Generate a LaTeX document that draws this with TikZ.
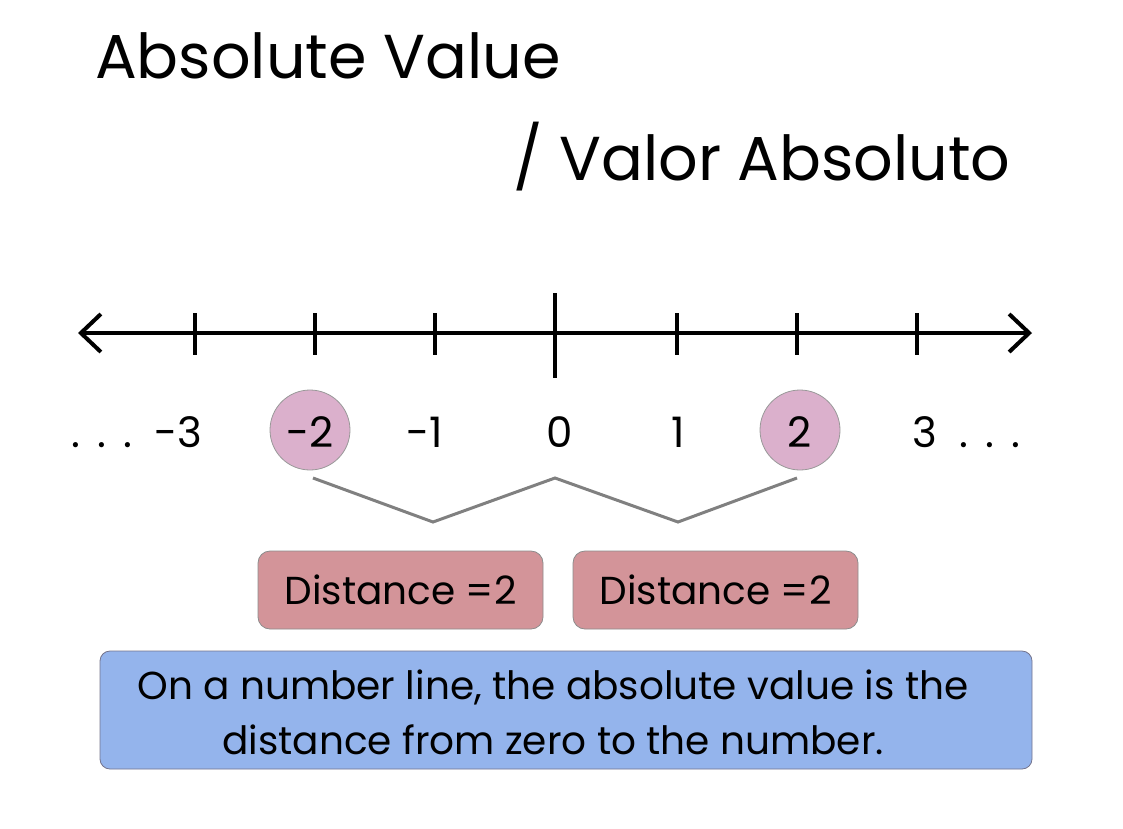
\documentclass[tikz,border=0pt]{standalone}
\usepackage{fontspec}
\setmainfont{Poppins}
\usetikzlibrary{arrows.meta}

\definecolor{markpink}{HTML}{DBB0CC}
\definecolor{distrose}{HTML}{D39499}
\definecolor{notebl}{HTML}{94B4EC}

\tikzset{
  numlbl/.style={anchor=base, font=\fontsize{42}{44}\selectfont, inner sep=0pt},
  markc/.style={circle, draw=gray!80, fill=markpink, line width=0.8pt, minimum size=80pt},
  distbox/.style={draw=gray!90, fill=distrose, rounded corners=12pt, line width=0.8pt,
    minimum width=285pt, minimum height=78pt, font=\fontsize{39}{40}\selectfont},
  notebox/.style={draw=gray!90!blue, fill=notebl, rounded corners=10pt, line width=0.8pt,
    minimum width=932pt, minimum height=118pt},
  notetxt/.style={align=center, inner sep=0pt, font=\fontsize{39}{55}\selectfont},
  brace/.style={draw=gray, line width=3pt}
}

\begin{document}
\begin{tikzpicture}[x=1pt,y=-1pt]
  \useasboundingbox (0,0) rectangle (1123,828);

  % titles
  \node[anchor=base west, inner sep=0pt, font=\fontsize{62}{66}\selectfont] (title) at (95,78) {Absolute Value};
  \node[anchor=base west, inner sep=0pt, font=\fontsize{62}{66}\selectfont] (subtitle) at (513,180) {/ Valor Absoluto};

  % number line
  \coordinate (lend) at (78,333);
  \coordinate (rend) at (1032,333);
  \draw[line width=4pt, {Straight Barb[length=20pt,width=38pt]}-{Straight Barb[length=20pt,width=38pt]}] (lend) -- (rend);
  \foreach \t/\x in {m3/195, m2/315, m1/435, p1/677, p2/797, p3/917}
    \draw[line width=4pt] (\x,313) -- (\x,355) coordinate (t\t);
  \draw[line width=4pt] (555,293) -- (555,378) coordinate (t0);

  % marked numbers
  \node[markc] (cm2) at (310,430) {};
  \node[markc] (cp2) at (800,430) {};

  % labels
  \foreach \n/\x in {-3/178, -2/310, -1/425, 0/560, 1/678, 2/800, 3/925}
    \node[numlbl] (l\n) at (\x,447) {\n};
  \node[numlbl] (ldots) at (102,447) {.\hspace{17pt}.\hspace{17pt}.};
  \node[numlbl] (rdots) at (990,447) {.\hspace{17pt}.\hspace{17pt}.};

  % distance brace
  \coordinate (b0) at (313,478);
  \coordinate (b1) at (433,522);
  \coordinate (b2) at (555,478);
  \coordinate (b3) at (678,522);
  \coordinate (b4) at (797,478);
  \draw[brace] (b0) -- (b1) -- (b2) -- (b3) -- (b4);

  % boxes
  \node[distbox] (dleft) at (400.5,590) {Distance =2};
  \node[distbox] (dright) at (715.5,590) {Distance =2};
  \node[notebox] (note) at (566,710) {};
  \node[notetxt] (notetext) at (553,712) {On a number line, the absolute value is the\\distance from zero to the number.};
\end{tikzpicture}
\end{document}
